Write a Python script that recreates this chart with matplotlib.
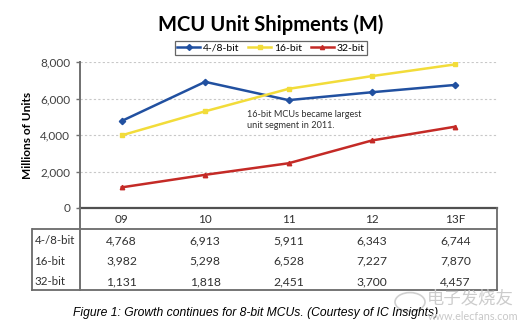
import numpy as np
import matplotlib
matplotlib.use("Agg")
from matplotlib import pyplot as plt
from matplotlib.lines import Line2D
from matplotlib.patches import Circle

# MCU unit shipments (millions)
years = ['09', '10', '11', '12', '13F']
series = ['4-/8-bit', '16-bit', '32-bit']
units_8bit = [4768, 6913, 5911, 6343, 6744]
units_16bit = [3982, 5298, 6528, 7227, 7870]
units_32bit = [1131, 1818, 2451, 3700, 4457]
yticks = [0, 2000, 4000, 6000, 8000]

colors = ['#2150a0', '#f2dc3a', '#c42a26']
markers = ['D', 's', '^']
values = [units_8bit, units_16bit, units_32bit]

plt.rcParams['font.family'] = ['Lato', 'DejaVu Sans']

W, H = 532, 334
fig = plt.figure(figsize=(W / 100, H / 100), dpi=100)
fig.patch.set_facecolor('white')


def box(x0, y0, x1, y1):
    # pixel box (top-left origin) -> figure fraction rect
    return [x0 / W, 1 - y1 / H, (x1 - x0) / W, (y1 - y0) / H]


ax = fig.add_axes(box(80, 62, 497, 208))
x = np.arange(len(years))
for vals, c, m, name in zip(values, colors, markers, series):
    ax.plot(x, vals, color=c, marker=m, markersize=3.2, lw=1.8,
            label=name, zorder=3)

ax.set_xlim(-0.5, len(years) - 0.5)
ax.set_ylim(0, 8000)
ax.set_yticks(yticks)
ax.set_yticklabels(['{:,}'.format(v) for v in yticks], fontsize=8.5,
                   color='#404040')
ax.set_xticks([])
for v in yticks[1:]:
    ax.axhline(v, color='#c8c8c8', lw=0.8, ls=(0, (2, 2)), zorder=1)
for s in ['top', 'right']:
    ax.spines[s].set_visible(False)
ax.spines['left'].set_color('#707070')
ax.spines['left'].set_linewidth(1.4)
ax.spines['bottom'].set_color('#505050')
ax.spines['bottom'].set_linewidth(1.6)
ax.tick_params(axis='y', length=3, width=1, color='#707070', pad=4)
ax.set_ylabel('Millions of Units', fontsize=8.6, fontweight='bold',
              labelpad=5)

ax.text(1.5, 5350, '16-bit MCUs became largest\nunit segment in 2011.',
        fontsize=6.6, color='#303030', va='top', ha='left',
        linespacing=1.2)

fig.text(0.508, 1 - 25 / H, 'MCU Unit Shipments (M)', fontsize=14.5,
         fontweight='bold', ha='center', va='center')

handles = [Line2D([], [], color=c, marker=m, markersize=3, lw=1.8)
           for c, m in zip(colors, markers)]
leg = fig.legend(handles, series, loc='center', ncol=3,
                 bbox_to_anchor=(271 / W, 1 - 48 / H), fontsize=7.5,
                 frameon=True, fancybox=False, handlelength=2.2,
                 handletextpad=0.3, columnspacing=0.8, borderpad=0.25)
leg.get_frame().set_edgecolor('#404040')
leg.get_frame().set_linewidth(0.9)

# data table under the chart
tab = fig.add_axes(box(32, 208, 497, 290))
lab_w = 48 / ((497 - 80) / len(years))
tab.set_xlim(-0.5 - lab_w, len(years) - 0.5)
tab.set_ylim(4, 0)
tab.axis('off')
edge = '#6a6a6a'
lw = 1.3
tab.plot([-0.5 - lab_w, len(years) - 0.5], [4, 4], color=edge, lw=lw,
         clip_on=False)
tab.plot([-0.5 - lab_w, -0.5 - lab_w], [1, 4], color=edge, lw=lw,
         clip_on=False)
tab.plot([-0.5 - lab_w, len(years) - 0.5], [1, 1], color=edge, lw=lw)
tab.plot([-0.5, -0.5], [0, 4], color='#707070', lw=1.4, clip_on=False)
tab.plot([len(years) - 0.5] * 2, [0, 4], color=edge, lw=lw,
         clip_on=False)

for i, yr in enumerate(years):
    tab.text(i, 0.55, yr, ha='center', va='center', fontsize=8.5,
             color='#303030')
for r, (name, vals) in enumerate(zip(series, values)):
    tab.text(-0.5 - lab_w + 0.03, r + 1.6, name, ha='left', va='center',
             fontsize=8.3, color='#303030')
    for i, v in enumerate(vals):
        tab.text(i, r + 1.6, '{:,}'.format(v), ha='center', va='center',
                 fontsize=8.7, color='#303030')

fig.text(73 / W, 1 - 313 / H,
         'Figure 1: Growth continues for 8-bit MCUs. (Courtesy of IC Insights)',
         fontsize=8.7, style='italic', family='Liberation Sans',
         ha='left', va='center')

# site watermark
fig.patches.append(Circle((410 / W, 1 - 302 / H), 15 / W,
                          transform=fig.transFigure, fill=False,
                          edgecolor='#d0d0d0', lw=1.2))
fig.text(470 / W, 1 - 298 / H, '电子发烧友', fontsize=12.5,
         family=['Noto Sans CJK SC', 'DejaVu Sans'], color='#cccccc',
         ha='center', va='center', style='italic')
fig.text(473 / W, 1 - 317 / H, 'www.elecfans.com', fontsize=7.8,
         color='#c8c8c8', ha='center', va='center')

fig.savefig('out.png', dpi=100)
